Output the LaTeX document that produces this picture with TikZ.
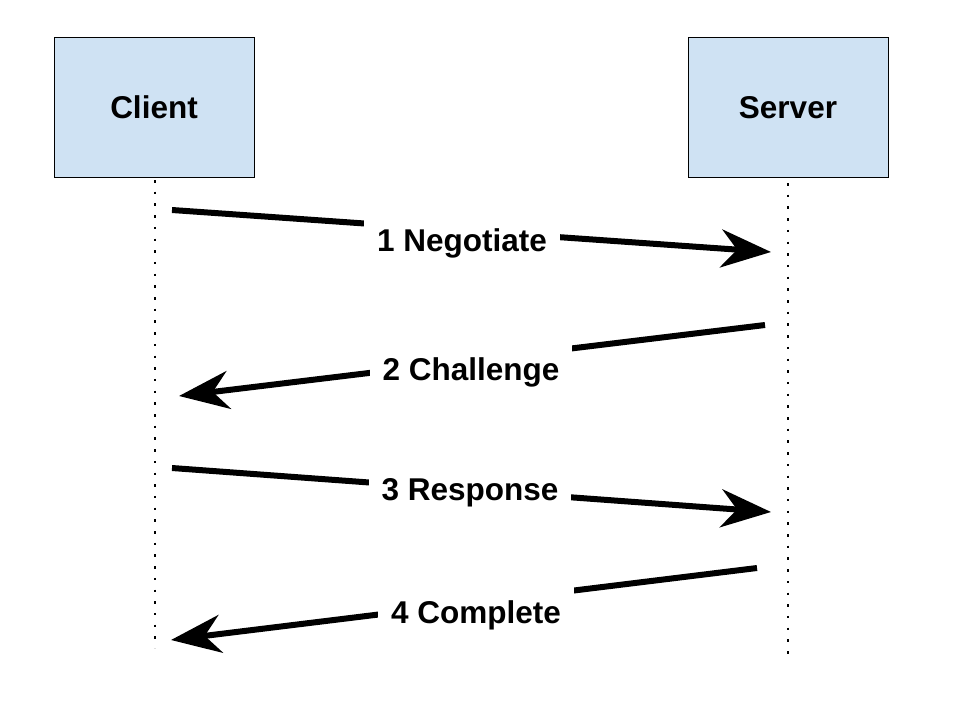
\documentclass[tikz,border=0pt]{standalone}
\usepackage{fontspec}
\setmainfont{Liberation Sans}
\usetikzlibrary{arrows.meta}
\definecolor{boxblue}{HTML}{CFE2F3}
\begin{document}
\begin{tikzpicture}[x=1pt,y=-1pt,
  actor/.style={draw=black,line width=1pt,fill=boxblue,minimum width=200pt,minimum height=140pt,inner sep=0pt,text height=22.6pt,text depth=0pt,font=\fontsize{31.5}{36}\selectfont\bfseries},
  lifeline/.style={line width=2.5pt,dash pattern=on 2.5pt off 9.2pt},
  msg/.style={line width=6pt,-{Stealth[length=50pt,width=38pt,inset=16pt]}},
  msglabel/.style={fill=white,inner xsep=13pt,inner ysep=0pt,minimum height=64pt,font=\fontsize{31.5}{36}\selectfont\bfseries}
]
\useasboundingbox (0,0) rectangle (960,720);
\node[actor] (client) at (154,107) {Client};
\node[actor] (server) at (788,107) {Server};
\coordinate (cl0) at (155,180);
\coordinate (cl1) at (155,648);
\coordinate (sl0) at (788,183);
\coordinate (sl1) at (788,655);
\draw[lifeline] (cl0) -- (cl1);
\draw[lifeline] (sl0) -- (sl1);
% message endpoints
\coordinate (m1s) at (172,210); \coordinate (m1e) at (771,252);
\coordinate (m2s) at (765,325); \coordinate (m2e) at (179,396);
\coordinate (m3s) at (172,468); \coordinate (m3e) at (771,512);
\coordinate (m4s) at (757,568); \coordinate (m4e) at (171,640);
\draw[msg] (m1s) -- (m1e);
\draw[msg] (m2s) -- (m2e);
\draw[msg] (m3s) -- (m3e);
\draw[msg] (m4s) -- (m4e);
\node[msglabel] (l1) at (462,243) {1 Negotiate};
\node[msglabel] (l2) at (471,372) {2 Challenge};
\node[msglabel] (l3) at (470,493) {3 Response};
\node[msglabel] (l4) at (476,615) {4 Complete};
\end{tikzpicture}
\end{document}
